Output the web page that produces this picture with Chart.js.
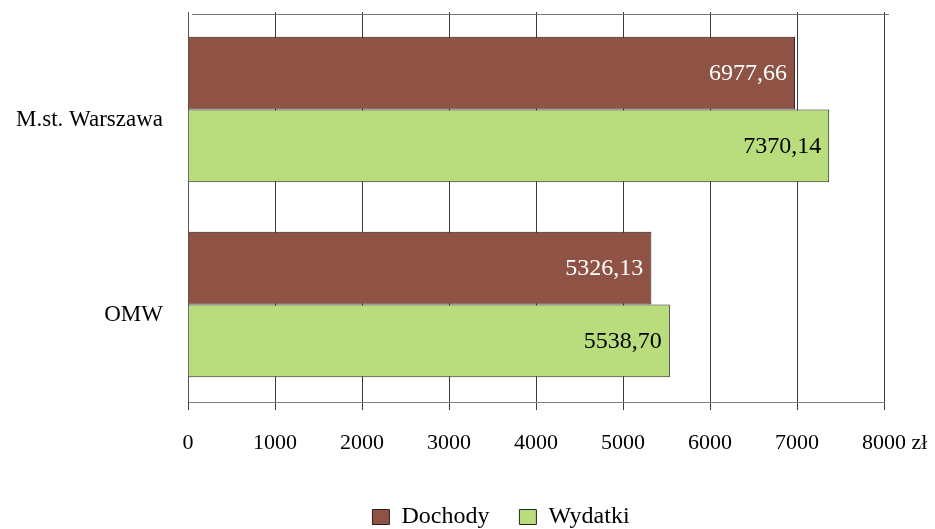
<!DOCTYPE html>
<html lang="pl">
<head>
<meta charset="utf-8">
<title>Dochody i wydatki</title>
<script src="https://cdn.jsdelivr.net/npm/chart.js@4.4.1/dist/chart.umd.min.js"></script>
<style>
  html, body { margin: 0; padding: 0; background: #fff; }
  #wrap { width: 935px; height: 529px; }
</style>
</head>
<body>
<div id="wrap"><canvas id="budgetChart"></canvas></div>
<script>
const categories = ['M.st. Warszawa', 'OMW'];
const dochody = [6977.66, 5326.13];
const wydatki = [7370.14, 5538.70];
const xTicks = [0, 1000, 2000, 3000, 4000, 5000, 6000, 7000, 8000];
const unit = 'zł';

const serif = "'Liberation Serif', 'Times New Roman', serif";

const fmt = v => v.toFixed(2).replace('.', ',');

// values written inside the end of each bar
const barValues = {
    id: 'barValues',
    afterDatasetsDraw(chart) {
        const ctx = chart.ctx;
        ctx.save();
        ctx.font = '24px ' + serif;
        ctx.textAlign = 'right';
        ctx.textBaseline = 'middle';
        chart.data.datasets.forEach((ds, i) => {
            chart.getDatasetMeta(i).data.forEach((bar, j) => {
                ctx.fillStyle = ds.labelColor;
                ctx.fillText(fmt(ds.data[j]), bar.x - 8, bar.y + 1);
            });
        });
        ctx.restore();
    }
};

// top frame line and the unit after the last tick label
const frame = {
    id: 'frame',
    afterDraw(chart) {
        const { ctx, chartArea } = chart;
        const x = chart.scales.x;
        ctx.save();
        ctx.strokeStyle = '#777';
        ctx.lineWidth = 1;
        ctx.beginPath();
        ctx.moveTo(chartArea.left + 4, chartArea.top + 2.5);
        ctx.lineTo(chartArea.right + 5, chartArea.top + 2.5);
        ctx.stroke();

        const items = x.getLabelItems();
        const last = items[items.length - 1];
        if (last) {
            ctx.font = '22px ' + serif;
            ctx.fillStyle = '#000';
            ctx.textAlign = 'left';
            ctx.textBaseline = last.options.textBaseline;
            const w = ctx.measureText(String(last.label)).width;
            const [tx, ty] = last.options.translation;
            ctx.fillText(' ' + unit, tx + w / 2, ty + (last.textOffset || 0));
        }
        ctx.restore();
    }
};

// legend: fixed height near the bottom edge, nudged right
const legendPlace = {
    id: 'legendPlace',
    beforeInit(chart) {
        const fit = chart.legend.fit;
        chart.legend.fit = function () {
            fit.call(this);
            this.height = 54;
        };
    },
    afterLayout(chart) {
        chart.legend.left += 59;
        chart.legend.right += 59;
    }
};

new Chart(document.getElementById('budgetChart'), {
    type: 'bar',
    data: {
        labels: categories,
        datasets: [
            {
                label: 'Dochody',
                data: dochody,
                backgroundColor: '#8F5345',
                borderColor: '#2a1e1c',
                borderWidth: 1,
                labelColor: '#ffffff'
            },
            {
                label: 'Wydatki',
                data: wydatki,
                backgroundColor: '#B9DC7D',
                borderColor: '#262620',
                borderWidth: 1,
                labelColor: '#000000'
            }
        ]
    },
    options: {
        indexAxis: 'y',
        responsive: true,
        maintainAspectRatio: false,
        animation: false,
        layout: { padding: { left: 0, right: 51, top: 12, bottom: 0 } },
        datasets: {
            bar: { categoryPercentage: 0.745, barPercentage: 1.0 }
        },
        scales: {
            x: {
                min: 0,
                max: 8000,
                afterBuildTicks: scale => {
                    scale.ticks = xTicks.map(v => ({ value: v }));
                },
                afterFit: scale => { scale.height = 73; },
                grid: {
                    color: '#3a3a3a',
                    lineWidth: 1,
                    drawTicks: true,
                    tickLength: 8,
                    tickColor: '#3a3a3a'
                },
                border: { display: true, color: '#808080' },
                ticks: {
                    color: '#000',
                    padding: 20,
                    maxRotation: 0,
                    font: { family: serif, size: 22 },
                    callback: value => String(value)
                }
            },
            y: {
                afterFit: scale => {
                    scale.width = 188;
                    scale.paddingTop = 0;
                    scale.paddingBottom = 0;
                },
                grid: { display: false },
                border: { display: true, color: '#555' },
                ticks: {
                    color: '#000',
                    padding: 17,
                    labelOffset: 10,
                    font: { family: serif, size: 23 }
                }
            }
        },
        plugins: {
            legend: {
                position: 'bottom',
                labels: {
                    color: '#000',
                    boxWidth: 17,
                    boxHeight: 15,
                    padding: 30,
                    font: { family: serif, size: 24 }
                }
            },
            tooltip: { enabled: false }
        }
    },
    plugins: [barValues, frame, legendPlace]
});
</script>
</body>
</html>
